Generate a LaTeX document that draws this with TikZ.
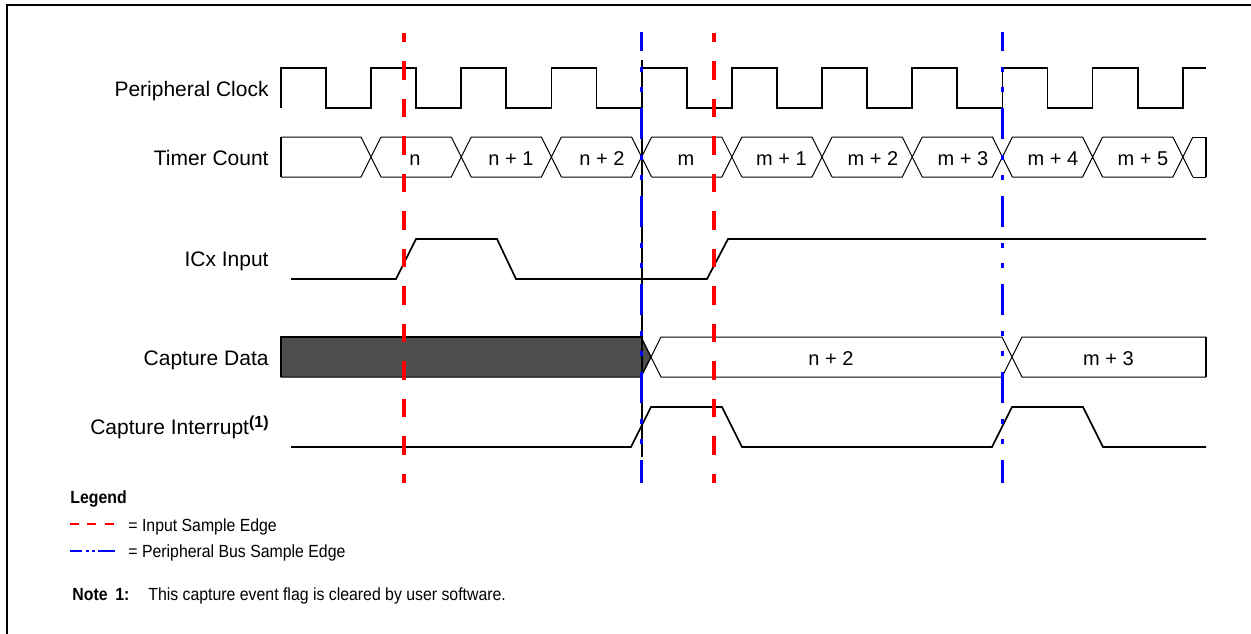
\documentclass[tikz,border=0pt]{standalone}
\usepackage{graphicx}
\usepackage{fontspec}
\setmainfont{Liberation Sans}
\definecolor{datagray}{RGB}{78,78,78}
\newcommand{\legscale}[1]{\scalebox{0.9}[1]{#1}}

\begin{document}
\begin{tikzpicture}[x=0.5pt,y=-0.5pt,
  lbl/.style={anchor=base east,inner sep=0pt,font=\fontsize{10.5}{12}\selectfont},
  val/.style={anchor=base,inner sep=0pt,font=\fontsize{10}{12}\selectfont},
  legtxt/.style={anchor=base west,inner sep=0pt,font=\fontsize{8.8}{10}\selectfont},
  wave/.style={line width=0.85pt},
  bus/.style={line width=0.5pt},
  busend/.style={line width=1pt},
  inedge/.style={red,line width=2pt,dash pattern=on 9.25pt off 9.5pt,dash phase=4.75pt},
  busedge/.style={blue,line width=1.5pt,dash pattern=on 15.5pt off 8pt on 2.5pt off 7.5pt on 2.5pt off 8pt,dash phase=6pt}]
\useasboundingbox (0,0) rectangle (1251,633);
\draw[line width=1pt] (7,640) -- (7,5) -- (1260,5);

% signal names
\node[lbl] (clk) at (269,96) {Peripheral Clock};
\node[lbl] (tmr) at (269,165) {Timer Count};
\node[lbl] (icx) at (269,266) {ICx Input};
\node[lbl] (cdat) at (269,365) {Capture Data};
\node[lbl] (cint) at (269,434.5) {Capture Interrupt\raisebox{3.75pt}{\fontsize{8}{9}\selectfont\bfseries(1)}};

% peripheral clock
\draw[wave] (281,108) -- (281,68) foreach \k in {0,...,9} { -| ({325.9+90.2*\k},108) -| ({371+90.2*\k},68) } -- (1206,68);

% timer count
\draw[bus] (281,137) -- (361,137) -- (381,177) (281,177) -- (361,177) -- (381,137);
\draw[busend] (281,137) -- (281,177);
\foreach \k in {1,...,9} {
  \pgfmathsetmacro\c{371+90.2*\k}
  \draw[bus] (\c-80.2,137) -- (\c-10,137) -- (\c+10,177)
             (\c-80.2,177) -- (\c-10,177) -- (\c+10,137);
}
\draw[bus] (1193,137) -- (1206,137) (1193,177) -- (1206,177);
\draw[busend] (1206,137) -- (1206,177);
\node[val] (n0) at (415,165) {n};
\node[val] (n1) at (511,165) {n + 1};
\node[val] (n2) at (602,165) {n + 2};
\node[val] (m0) at (686,165) {m};
\node[val] (m1) at (781.5,165) {m + 1};
\node[val] (m2) at (873,165) {m + 2};
\node[val] (m3) at (963,165) {m + 3};
\node[val] (m4) at (1053,165) {m + 4};
\node[val] (m5) at (1143,165) {m + 5};

% ICx input
\draw[wave] (291,279) -- (396,279) -- (416,239) -- (497,239) -- (516,279) -- (707,279) -- (728,239) -- (1206,239);

% capture data
\draw[bus,fill=datagray] (281,337) -- (641,337) -- (651,357) -- (641,377) -- (281,377) -- cycle;
\draw[busend] (281,377) -- (281,337) -- (641,337);
\draw[bus] (641,337) -- (661,377) -- (1002,377) -- (1022,337) -- (1206,337)
           (641,377) -- (661,337) -- (1002,337) -- (1022,377) -- (1206,377);
\draw[busend] (1206,337) -- (1206,377);
\node[val] (dn2) at (831,365.5) {n + 2};
\node[val] (dm3) at (1108.5,365.5) {m + 3};

% capture interrupt
\draw[wave] (291,447) -- (631,447) -- (651,407) -- (722,407) -- (742,447) -- (992,447) -- (1012,407) -- (1083,407) -- (1103,447) -- (1206,447);

% sample edges
\draw[line width=0.6pt] (642,60) -- (642,457);
\draw[inedge] (404,33) -- (404,483);
\draw[inedge] (714,33) -- (714,483);
\draw[busedge] (641,32) -- (641,483);
\draw[busedge] (1002,32) -- (1002,483);

% legend
\node[legtxt,font=\fontsize{8.8}{10}\selectfont\bfseries] (leg) at (70,503) {\legscale{Legend}};
\draw[red,line width=1.4pt,dash pattern=on 4.4pt off 4.3pt] (70,524) -- (115,524);
\draw[blue,line width=1.4pt,dash pattern=on 6pt off 2pt on 1.5pt off 1.5pt on 1.5pt off 1.7pt on 9pt off 2pt] (70,551) -- (115,551);
\node[legtxt] (legin) at (128,531) {\legscale{= Input Sample Edge}};
\node[legtxt] (legbus) at (128,557.5) {\legscale{= Peripheral Bus Sample Edge}};
\node[legtxt,font=\fontsize{8.8}{10}\selectfont\bfseries] (note) at (72,600) {\legscale{Note}};
\node[legtxt,font=\fontsize{8.8}{10}\selectfont\bfseries] (notenum) at (115,600) {\legscale{1:}};
\node[legtxt] (notetxt) at (148,600) {\legscale{This capture event flag is cleared by user software.}};
\end{tikzpicture}
\end{document}
